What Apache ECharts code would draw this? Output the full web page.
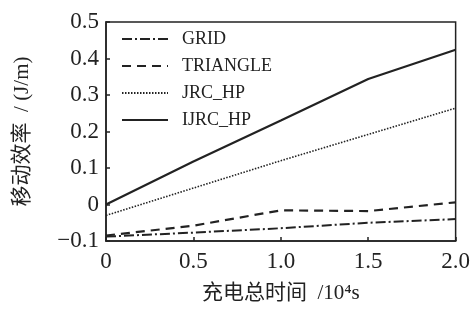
<!DOCTYPE html>
<html>
<head>
<meta charset="utf-8">
<script src="https://cdn.jsdelivr.net/npm/echarts@6/dist/echarts.min.js"></script>
<style>
  html, body { margin: 0; padding: 0; background: #fff; }
  #main { width: 473px; height: 309px; }
</style>
</head>
<body>
<div id="main"></div>
<script>
var xValues = [0, 0.5, 1.0, 1.5, 2.0];
var gridData = [-0.088, -0.077, -0.065, -0.05, -0.04];
var triangleData = [-0.085, -0.058, -0.016, -0.018, 0.006];
var jrcData = [-0.03, 0.045, 0.12, 0.192, 0.264];
var ijrcData = [0, 0.118, 0.23, 0.344, 0.424];
var seriesNames = ['GRID', 'TRIANGLE', 'JRC_HP', 'IJRC_HP'];

var serif = '"Liberation Serif", "Noto Sans CJK SC", serif';
var ink = '#222';

function pairs(ys) {
    return xValues.map(function (x, i) { return [x, ys[i]]; });
}

var myChart = echarts.init(document.getElementById('main'));

var option = {
    backgroundColor: '#fff',
    animation: false,
    grid: {
        left: 106,
        right: 17,
        top: 22,
        bottom: 60,
        show: true,
        borderColor: ink,
        borderWidth: 1.5
    },
    legend: {
        orient: 'vertical',
        left: 116,
        top: 25,
        itemWidth: 46,
        itemHeight: 12,
        itemGap: 9,
        itemStyle: { opacity: 0 },
        textStyle: { fontFamily: serif, fontSize: 18, color: ink, padding: [0, 0, 0, 9] },
        data: seriesNames
    },
    xAxis: {
        type: 'value',
        min: 0,
        max: 2,
        interval: 0.5,
        name: '充电总时间  /10⁴s',
        nameLocation: 'middle',
        nameGap: 42,
        nameTextStyle: { fontFamily: serif, fontSize: 21, color: ink },
        axisLine: { onZero: false, lineStyle: { color: ink, width: 1.5 } },
        axisTick: { inside: true, length: 4, lineStyle: { color: ink, width: 1.5 } },
        splitLine: { show: false },
        axisLabel: {
            fontFamily: serif, fontSize: 23, color: ink, margin: 9,
            formatter: function (v) { return v === 0 ? '0' : v.toFixed(1); }
        }
    },
    yAxis: {
        type: 'value',
        min: -0.1,
        max: 0.5,
        interval: 0.1,
        name: '移动效率  / (J/m)',
        nameLocation: 'middle',
        nameGap: 73,
        nameTextStyle: { fontFamily: serif, fontSize: 21, color: ink },
        axisLine: { onZero: false, lineStyle: { color: ink, width: 1.5 } },
        axisTick: { inside: true, length: 4, lineStyle: { color: ink, width: 1.5 } },
        splitLine: { show: false },
        axisLabel: {
            fontFamily: serif, fontSize: 23, color: ink, margin: 7,
            formatter: function (v) {
                var r = Math.round(v * 10) / 10;
                if (r === 0) return '0';
                return (r < 0 ? '\u2212' : '') + Math.abs(r).toFixed(1);
            }
        }
    },
    series: [
        {
            name: 'GRID', type: 'line', symbol: 'none', data: pairs(gridData),
            lineStyle: { color: ink, width: 2, type: [10, 3, 2, 3] },
            itemStyle: { color: ink }
        },
        {
            name: 'TRIANGLE', type: 'line', symbol: 'none', data: pairs(triangleData),
            lineStyle: { color: ink, width: 2.2, type: [9, 6] },
            itemStyle: { color: ink }
        },
        {
            name: 'JRC_HP', type: 'line', symbol: 'none', data: pairs(jrcData),
            lineStyle: { color: ink, width: 1.6, type: [1.5, 1.5] },
            itemStyle: { color: ink }
        },
        {
            name: 'IJRC_HP', type: 'line', symbol: 'none', data: pairs(ijrcData),
            lineStyle: { color: ink, width: 2.2 },
            itemStyle: { color: ink }
        }
    ]
};

myChart.setOption(option);
</script>
</body>
</html>
